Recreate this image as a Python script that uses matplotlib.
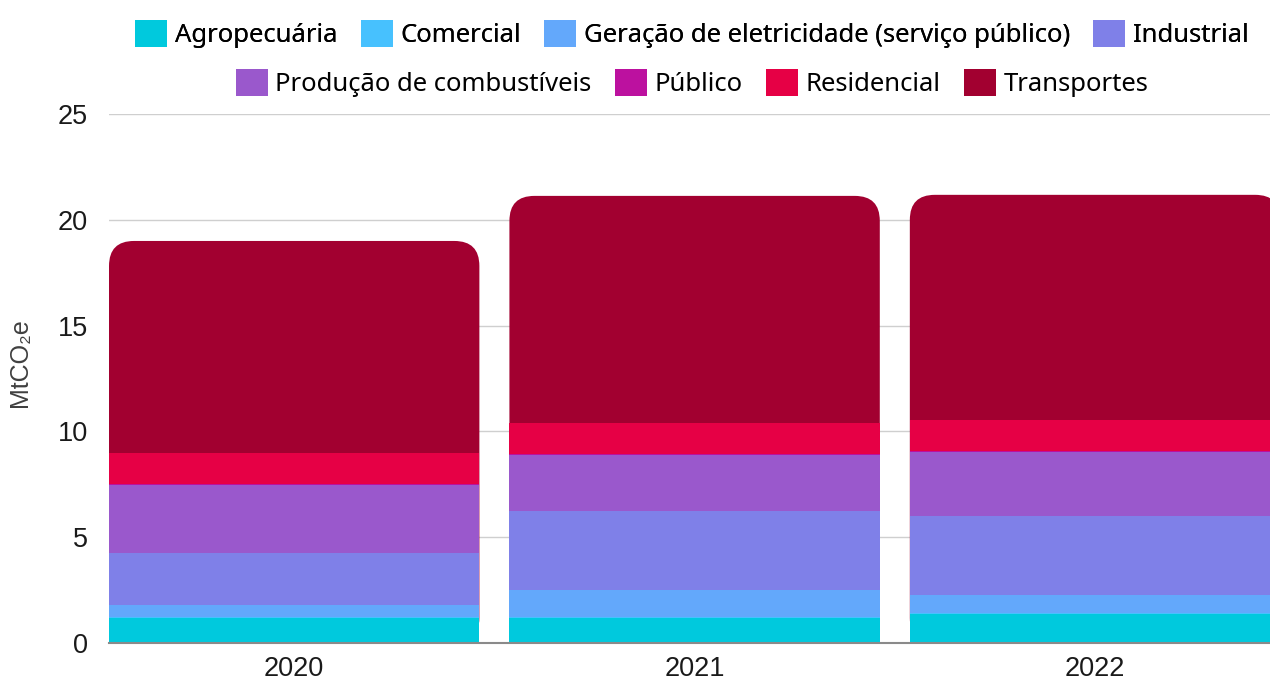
#!/usr/bin/env python3
"""Stacked emissions by sector, 2020-2022."""

import matplotlib
matplotlib.use("Agg")
import matplotlib.pyplot as plt
import numpy as np
from matplotlib.patches import FancyBboxPatch, Patch

YEARS = ["2020", "2021", "2022"]
SECTORS = [
    "Agropecuária",
    "Comercial",
    "Geração de eletricidade (serviço público)",
    "Industrial",
    "Produção de combustíveis",
    "Público",
    "Residencial",
    "Transportes",
]
COLORS = ["#00C9DD", "#47C1FE", "#63A8FB", "#7F80E8",
          "#9A58CC", "#BC119F", "#E60045", "#A20030"]

agropecuaria = [1.18, 1.20, 1.36]
comercial = [0.05, 0.05, 0.05]
geracao = [0.57, 1.25, 0.86]
industrial = [2.46, 3.74, 3.73]
producao = [3.21, 2.65, 3.03]
publico = [0.03, 0.03, 0.03]
residencial = [1.48, 1.48, 1.48]
transportes = [10.02, 10.73, 10.64]

SERIES = [agropecuaria, comercial, geracao, industrial,
          producao, publico, residencial, transportes]

FIG_W, FIG_H = 1270, 680
LEFT, RIGHT, BOTTOM, TOP = 109, 1270, 643, 114
XLIM = (-0.4625, 2.437)
YLIM = (0, 25)
WIDTH = 0.925
RADIUS_PX = 25

fig = plt.figure(figsize=(FIG_W / 100, FIG_H / 100), dpi=100)
ax = fig.add_axes([LEFT / FIG_W, 1 - BOTTOM / FIG_H,
                   (RIGHT - LEFT) / FIG_W, (BOTTOM - TOP) / FIG_H])
ax.set_xlim(*XLIM)
ax.set_ylim(*YLIM)

x = np.arange(len(YEARS))
bottom = np.zeros(len(YEARS))
for vals, color in zip(SERIES[:-1], COLORS[:-1]):
    ax.bar(x, vals, WIDTH, bottom=bottom, color=color, lw=0, zorder=3)
    bottom += np.array(vals)

# top segment with rounded upper corners; it spans from 0 so the lower
# bars hide its rounded bottom
totals = bottom + np.array(transportes)
rx = RADIUS_PX * (XLIM[1] - XLIM[0]) / (RIGHT - LEFT)
ry = RADIUS_PX * (YLIM[1] - YLIM[0]) / (BOTTOM - TOP)
for xi, tot in zip(x, totals):
    ax.add_patch(FancyBboxPatch(
        (xi - WIDTH / 2, 0), WIDTH, tot,
        boxstyle=f"round,pad=0,rounding_size={rx}",
        mutation_aspect=ry / rx, fc=COLORS[-1], lw=0, zorder=2))

ax.set_yticks(range(0, 26, 5))
ax.grid(axis="y", color="#cfcfcf", lw=1, zorder=0)
ax.set_axisbelow(True)
for side in ("top", "right", "left"):
    ax.spines[side].set_visible(False)
ax.spines["bottom"].set_color("#8a8a8a")
ax.spines["bottom"].set_linewidth(1.5)
ax.spines["bottom"].set_zorder(5)
ax.set_xticks(x)
ax.set_xticklabels(YEARS)
ax.tick_params(axis="both", length=0, labelsize=19.5, labelcolor="#1a1a1a",
               labelfontfamily="Liberation Sans")
ax.tick_params(axis="y", pad=15)
ax.tick_params(axis="x", pad=9)
ax.set_ylabel("MtCO₂e", fontsize=18, color="#404040",
              family=["Liberation Sans", "DejaVu Sans"])
ax.yaxis.set_label_coords(-0.066, 0.53)

handles = [Patch(fc=c, ec="none") for c in COLORS]
legend_kw = dict(loc="center", ncol=4, frameon=False, handlelength=1.25,
                 handleheight=1.25, handletextpad=0.3, columnspacing=0.9,
                 borderpad=0, prop={"family": "Noto Sans", "size": 18.5})
leg1 = fig.legend(handles[:4], SECTORS[:4],
                  bbox_to_anchor=(692 / FIG_W, 1 - 34 / FIG_H), **legend_kw)
fig.add_artist(leg1)
fig.legend(handles[4:], SECTORS[4:],
           bbox_to_anchor=(692 / FIG_W, 1 - 83 / FIG_H), **legend_kw)

fig.savefig("out.png", dpi=100)
